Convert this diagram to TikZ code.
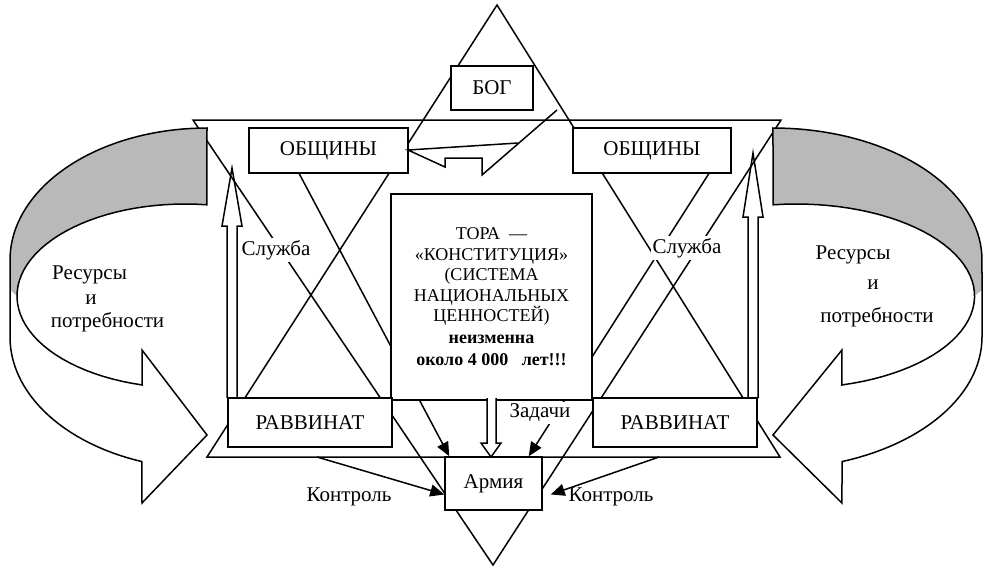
\documentclass[tikz,border=0pt]{standalone}
\usepackage{fontspec}
\setmainfont{Liberation Serif}
\newfontfamily\diagfont{Liberation Serif}
\usetikzlibrary{arrows.meta,calc,backgrounds}

% curved 3D arrow (resources), drawn for the left side
\newcommand{\ringarrow}{%
  \fill[gray!55] plot[domain=90:180,samples=40] ({207+197*cos(\x)},{260-132*sin(\x)}) -- (10,290)
    -- plot[domain=180:82.5,samples=40] ({185+168*cos(\x)},{296-92*sin(\x)}) -- cycle;
  \draw plot[domain=90:180,samples=40] ({207+197*cos(\x)},{260-132*sin(\x)}) -- (10,337)
    -- plot[domain=180:250.7,samples=30] ({207+197*cos(\x)},{337-132*sin(\x)})
    -- (142,503) -- (207,435) -- (142,350) -- (142,385)
    -- plot[domain=254.8:82.5,samples=50] ({185+168*cos(\x)},{296-92*sin(\x)}) -- cycle;
}

\begin{document}
\begin{tikzpicture}[x=1pt,y=-1pt,line width=1.5pt,
  every node/.style={font=\diagfont\fontsize{21}{23}\selectfont},
  blk/.style={draw,fill=white,inner sep=0pt},
  lbl/.style={fill=white,inner sep=2pt},
  ln/.style={line width=1.5pt},
  arr/.style={-{Triangle[length=14pt,width=12pt]}}]
  \useasboundingbox (0,0) rectangle (985,566);

  % boxes
  \node[blk,minimum width=82pt,minimum height=44pt] (bog) at (492,88) {БОГ};
  \node[blk,minimum width=159pt,minimum height=45pt] (obL) at (328.5,150.5) {ОБЩИНЫ};
  \node[blk,minimum width=158pt,minimum height=45pt] (obR) at (652,150.5) {ОБЩИНЫ};
  \node[blk,minimum width=201pt,minimum height=206pt,align=center,font=\diagfont\fontsize{18}{20.5}\selectfont] (tora) at (491.5,297)
    {ТОРА~~—\\«КОНСТИТУЦИЯ»\\(СИСТЕМА\\НАЦИОНАЛЬНЫХ\\ЦЕННОСТЕЙ)\\[1.5pt]\textbf{неизменна}\\[1.5pt]\textbf{около 4~000~~~лет!!!}};
  \node[blk,minimum width=164pt,minimum height=49pt] (ravL) at (310,422.5) {РАВВИНАТ};
  \node[blk,minimum width=164pt,minimum height=49pt] (ravR) at (675,422.5) {РАВВИНАТ};
  \node[blk,minimum width=97pt,minimum height=53pt] (armia) at (493.5,483.5) {Армия};

  % labels
  \node[lbl] (slL) at (276,250) {Служба};
  \node[lbl] (slR) at (687,248) {Служба};
  \node[lbl] (zad) at (540,413) {Задачи};
  \node (konL) at (349,497) {Контроль};
  \node (konR) at (611,497) {Контроль};
  \node (resL) at (89.5,275) {Ресурсы};
  \node (iL) at (91,300) {и};
  \node (potL) at (107.5,322) {потребности};
  \node (resR) at (853,255) {Ресурсы};
  \node (iR) at (873,285) {и};
  \node (potR) at (877,317) {потребности};

  % star and the lines behind the boxes
  \begin{scope}[on background layer]
    \draw[ln] (193,120) -- (781,120) -- (493,565) -- cycle;
    \draw[ln] (497,5) -- (780,457) -- (207,457) -- cycle;
    \draw[ln,arr] ($(obL.south west)+(51,0)$) -- ($(armia.north west)+(5,0)$);
    \draw[ln,arr] ($(obR.south east)+(-23,0)$) -- ($(armia.north east)+(-14,0)$);
  \end{scope}

  % resources arrows
  \ringarrow
  \begin{scope}[shift={(992.6,0)},xscale=-1.061]
    \ringarrow
  \end{scope}

  % control
  \coordinate (cL) at (317,457);
  \coordinate (cR) at (659,457);
  \draw[arr] (cL) -- ($(armia.west)+(0,11)$);
  \draw[arr] (cR) -- ($(armia.east)+(8,11)$);

  % hollow arrows
  \draw[fill=white] (487,398) -- (487,443) -- (481,443) -- (491,457) -- (501,443) -- (496,443) -- (496,398);
  \draw (227,398) -- (227,226) -- (222,226) -- (232,168) -- (242,226) -- (237,226) -- (237,398);
  \draw (748,398) -- (748,217) -- (743,217) -- (753,153) -- (763,217) -- (758,217) -- (758,398);
  \draw (557,110) -- (482,175) -- (482,158) -- (445,158) -- (445,167) -- (408,150) -- (518,143);
\end{tikzpicture}
\end{document}
